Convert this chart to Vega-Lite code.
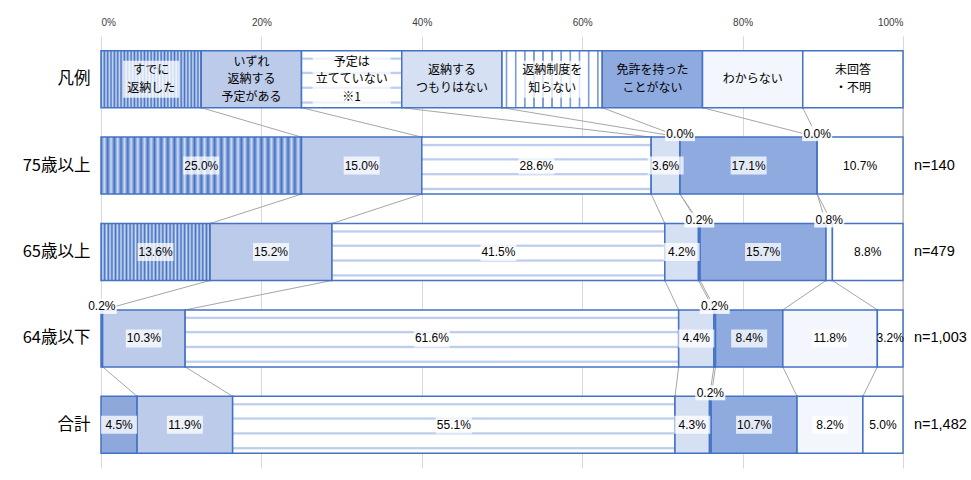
{
  "$schema": "https://vega.github.io/schema/vega-lite/v6.json",
  "width": 802,
  "height": 432,
  "autosize": {"type": "none"},
  "padding": {"left": 101, "top": 36, "right": 68, "bottom": 12},
  "background": "white",
  "config": {"view": {"stroke": null}, "font": "Noto Sans CJK JP"},
  "layer": [
    {
      "data": {"values": [
        {"row": "凡例", "ri": 0, "ci": 0, "cat": "すでに返納した", "value": 12.5, "nl": 2, "l1": "すでに", "l2": "返納した"},
        {"row": "凡例", "ri": 0, "ci": 1, "cat": "いずれ返納する予定がある", "value": 12.5, "nl": 3, "l1": "いずれ", "l2": "返納する", "l3": "予定がある"},
        {"row": "凡例", "ri": 0, "ci": 2, "cat": "予定は立てていない※1", "value": 12.5, "nl": 3, "l1": "予定は", "l2": "立てていない", "l3": "※1"},
        {"row": "凡例", "ri": 0, "ci": 3, "cat": "返納するつもりはない", "value": 12.5, "nl": 2, "l1": "返納する", "l2": "つもりはない"},
        {"row": "凡例", "ri": 0, "ci": 4, "cat": "返納制度を知らない", "value": 12.5, "nl": 2, "l1": "返納制度を", "l2": "知らない"},
        {"row": "凡例", "ri": 0, "ci": 5, "cat": "免許を持ったことがない", "value": 12.5, "nl": 2, "l1": "免許を持った", "l2": "ことがない"},
        {"row": "凡例", "ri": 0, "ci": 6, "cat": "わからない", "value": 12.5, "nl": 1, "l1": "わからない"},
        {"row": "凡例", "ri": 0, "ci": 7, "cat": "未回答・不明", "value": 12.5, "nl": 2, "l1": "未回答", "l2": "・不明"},
        {"row": "75歳以上", "ri": 1, "ci": 0, "cat": "すでに返納した", "value": 25.0},
        {"row": "75歳以上", "ri": 1, "ci": 1, "cat": "いずれ返納する予定がある", "value": 15.0},
        {"row": "75歳以上", "ri": 1, "ci": 2, "cat": "予定は立てていない", "value": 28.6},
        {"row": "75歳以上", "ri": 1, "ci": 3, "cat": "返納するつもりはない", "value": 3.6},
        {"row": "75歳以上", "ri": 1, "ci": 4, "cat": "返納制度を知らない", "value": 0.0},
        {"row": "75歳以上", "ri": 1, "ci": 5, "cat": "免許を持ったことがない", "value": 17.1},
        {"row": "75歳以上", "ri": 1, "ci": 6, "cat": "わからない", "value": 0.0},
        {"row": "75歳以上", "ri": 1, "ci": 7, "cat": "未回答・不明", "value": 10.7},
        {"row": "65歳以上", "ri": 2, "ci": 0, "cat": "すでに返納した", "value": 13.6},
        {"row": "65歳以上", "ri": 2, "ci": 1, "cat": "いずれ返納する予定がある", "value": 15.2},
        {"row": "65歳以上", "ri": 2, "ci": 2, "cat": "予定は立てていない", "value": 41.5},
        {"row": "65歳以上", "ri": 2, "ci": 3, "cat": "返納するつもりはない", "value": 4.2},
        {"row": "65歳以上", "ri": 2, "ci": 4, "cat": "返納制度を知らない", "value": 0.2},
        {"row": "65歳以上", "ri": 2, "ci": 5, "cat": "免許を持ったことがない", "value": 15.7},
        {"row": "65歳以上", "ri": 2, "ci": 6, "cat": "わからない", "value": 0.8},
        {"row": "65歳以上", "ri": 2, "ci": 7, "cat": "未回答・不明", "value": 8.8},
        {"row": "64歳以下", "ri": 3, "ci": 0, "cat": "すでに返納した", "value": 0.2},
        {"row": "64歳以下", "ri": 3, "ci": 1, "cat": "いずれ返納する予定がある", "value": 10.3},
        {"row": "64歳以下", "ri": 3, "ci": 2, "cat": "予定は立てていない", "value": 61.6},
        {"row": "64歳以下", "ri": 3, "ci": 3, "cat": "返納するつもりはない", "value": 4.4},
        {"row": "64歳以下", "ri": 3, "ci": 4, "cat": "返納制度を知らない", "value": 0.2},
        {"row": "64歳以下", "ri": 3, "ci": 5, "cat": "免許を持ったことがない", "value": 8.4},
        {"row": "64歳以下", "ri": 3, "ci": 6, "cat": "わからない", "value": 11.8},
        {"row": "64歳以下", "ri": 3, "ci": 7, "cat": "未回答・不明", "value": 3.2},
        {"row": "合計", "ri": 4, "ci": 0, "cat": "すでに返納した", "value": 4.5},
        {"row": "合計", "ri": 4, "ci": 1, "cat": "いずれ返納する予定がある", "value": 11.9},
        {"row": "合計", "ri": 4, "ci": 2, "cat": "予定は立てていない", "value": 55.1},
        {"row": "合計", "ri": 4, "ci": 3, "cat": "返納するつもりはない", "value": 4.3},
        {"row": "合計", "ri": 4, "ci": 4, "cat": "返納制度を知らない", "value": 0.2},
        {"row": "合計", "ri": 4, "ci": 5, "cat": "免許を持ったことがない", "value": 10.7},
        {"row": "合計", "ri": 4, "ci": 6, "cat": "わからない", "value": 8.2},
        {"row": "合計", "ri": 4, "ci": 7, "cat": "未回答・不明", "value": 5.0}
      ]},
      "transform": [
        {"stack": "value", "groupby": ["row"], "sort": [{"field": "ci", "order": "ascending"}], "as": ["x0", "x1"], "offset": "normalize"},
        {"calculate": "(datum.x0 + datum.x1) / 2", "as": "xm"},
        {"calculate": "format(datum.value, '.1f') + '%'", "as": "lab"}
      ],
      "encoding": {
        "y": {"field": "row", "type": "nominal", "sort": ["凡例", "75歳以上", "65歳以上", "64歳以下", "合計"], "scale": {"paddingInner": 0.34, "paddingOuter": 0.17},
          "axis": {"title": null, "domain": false, "ticks": false, "grid": false, "labelFontSize": 16.5, "labelColor": "#000000", "labelPadding": 11, "labelFont": "Noto Sans CJK JP"}}
      },
      "layer": [
        {
          "transform": [
            {"window": [{"op": "lead", "field": "x1", "as": "nx1"}, {"op": "lead", "field": "row", "as": "nrow"}], "groupby": ["ci"], "sort": [{"field": "ri", "order": "ascending"}]},
            {"filter": "datum.nrow != null"}
          ],
          "mark": {"type": "rule", "color": "#a6a6a6", "strokeWidth": 1, "yOffset": 28.5, "y2Offset": -28.5},
          "encoding": {
            "x": {"field": "x1", "type": "quantitative", "scale": {"domain": [0, 1], "nice": false},
              "axis": {"orient": "top", "values": [0, 0.2, 0.4, 0.6, 0.8, 1], "format": "%", "title": null, "domain": false, "ticks": false, "labelFontSize": 10, "labelColor": "#404040", "labelFont": "Liberation Sans", "labelPadding": 9, "gridColor": "#d9d9d9", "grid": true}},
            "x2": {"field": "nx1"},
            "y2": {"field": "nrow"}
          }
        },
        {
          "mark": {"type": "bar", "stroke": "#4472c4", "strokeWidth": 1.5},
          "encoding": {
            "x": {"field": "x0", "type": "quantitative"},
            "x2": {"field": "x1"},
            "fill": {
              "condition": [
                {"test": "datum.ci == 0 && datum.value >= 5", "value": {"gradient": "linear", "x1": 0, "y1": 0, "x2": 1, "y2": 0, "stops": [
                  {"offset": 0, "color": "#4472c4"}, {"offset": 0.0167, "color": "#d0dcf2"}, {"offset": 0.0333, "color": "#4472c4"}, {"offset": 0.05, "color": "#d0dcf2"},
                  {"offset": 0.0667, "color": "#4472c4"}, {"offset": 0.0833, "color": "#d0dcf2"}, {"offset": 0.1, "color": "#4472c4"}, {"offset": 0.1167, "color": "#d0dcf2"},
                  {"offset": 0.1333, "color": "#4472c4"}, {"offset": 0.15, "color": "#d0dcf2"}, {"offset": 0.1667, "color": "#4472c4"}, {"offset": 0.1833, "color": "#d0dcf2"},
                  {"offset": 0.2, "color": "#4472c4"}, {"offset": 0.2167, "color": "#d0dcf2"}, {"offset": 0.2333, "color": "#4472c4"}, {"offset": 0.25, "color": "#d0dcf2"},
                  {"offset": 0.2667, "color": "#4472c4"}, {"offset": 0.2833, "color": "#d0dcf2"}, {"offset": 0.3, "color": "#4472c4"}, {"offset": 0.3167, "color": "#d0dcf2"},
                  {"offset": 0.3333, "color": "#4472c4"}, {"offset": 0.35, "color": "#d0dcf2"}, {"offset": 0.3667, "color": "#4472c4"}, {"offset": 0.3833, "color": "#d0dcf2"},
                  {"offset": 0.4, "color": "#4472c4"}, {"offset": 0.4167, "color": "#d0dcf2"}, {"offset": 0.4333, "color": "#4472c4"}, {"offset": 0.45, "color": "#d0dcf2"},
                  {"offset": 0.4667, "color": "#4472c4"}, {"offset": 0.4833, "color": "#d0dcf2"}, {"offset": 0.5, "color": "#4472c4"}, {"offset": 0.5167, "color": "#d0dcf2"},
                  {"offset": 0.5333, "color": "#4472c4"}, {"offset": 0.55, "color": "#d0dcf2"}, {"offset": 0.5667, "color": "#4472c4"}, {"offset": 0.5833, "color": "#d0dcf2"},
                  {"offset": 0.6, "color": "#4472c4"}, {"offset": 0.6167, "color": "#d0dcf2"}, {"offset": 0.6333, "color": "#4472c4"}, {"offset": 0.65, "color": "#d0dcf2"},
                  {"offset": 0.6667, "color": "#4472c4"}, {"offset": 0.6833, "color": "#d0dcf2"}, {"offset": 0.7, "color": "#4472c4"}, {"offset": 0.7167, "color": "#d0dcf2"},
                  {"offset": 0.7333, "color": "#4472c4"}, {"offset": 0.75, "color": "#d0dcf2"}, {"offset": 0.7667, "color": "#4472c4"}, {"offset": 0.7833, "color": "#d0dcf2"},
                  {"offset": 0.8, "color": "#4472c4"}, {"offset": 0.8167, "color": "#d0dcf2"}, {"offset": 0.8333, "color": "#4472c4"}, {"offset": 0.85, "color": "#d0dcf2"},
                  {"offset": 0.8667, "color": "#4472c4"}, {"offset": 0.8833, "color": "#d0dcf2"}, {"offset": 0.9, "color": "#4472c4"}, {"offset": 0.9167, "color": "#d0dcf2"},
                  {"offset": 0.9333, "color": "#4472c4"}, {"offset": 0.95, "color": "#d0dcf2"}, {"offset": 0.9667, "color": "#4472c4"}, {"offset": 0.9833, "color": "#d0dcf2"},
                  {"offset": 1, "color": "#4472c4"}]}},
                {"test": "datum.ci == 2", "value": {"gradient": "linear", "x1": 0, "y1": 0, "x2": 0, "y2": 1, "stops": [
                  {"offset": 0, "color": "#ffffff"}, {"offset": 0.11, "color": "#ffffff"}, {"offset": 0.13, "color": "#bccdee"}, {"offset": 0.15, "color": "#bccdee"}, {"offset": 0.17, "color": "#ffffff"},
                  {"offset": 0.36, "color": "#ffffff"}, {"offset": 0.38, "color": "#bccdee"}, {"offset": 0.40, "color": "#bccdee"}, {"offset": 0.42, "color": "#ffffff"},
                  {"offset": 0.62, "color": "#ffffff"}, {"offset": 0.64, "color": "#bccdee"}, {"offset": 0.66, "color": "#bccdee"}, {"offset": 0.68, "color": "#ffffff"},
                  {"offset": 0.88, "color": "#ffffff"}, {"offset": 0.90, "color": "#bccdee"}, {"offset": 0.92, "color": "#bccdee"}, {"offset": 0.94, "color": "#ffffff"},
                  {"offset": 1, "color": "#ffffff"}]}},
                {"test": "datum.ci == 4 && datum.value >= 5", "value": {"gradient": "linear", "x1": 0, "y1": 0, "x2": 1, "y2": 0, "stops": [
                  {"offset": 0.033, "color": "#ffffff"}, {"offset": 0.039, "color": "#7f9fd8"}, {"offset": 0.051, "color": "#7f9fd8"}, {"offset": 0.057, "color": "#ffffff"},
                  {"offset": 0.124, "color": "#ffffff"}, {"offset": 0.130, "color": "#7f9fd8"}, {"offset": 0.142, "color": "#7f9fd8"}, {"offset": 0.148, "color": "#ffffff"},
                  {"offset": 0.215, "color": "#ffffff"}, {"offset": 0.221, "color": "#7f9fd8"}, {"offset": 0.233, "color": "#7f9fd8"}, {"offset": 0.239, "color": "#ffffff"},
                  {"offset": 0.306, "color": "#ffffff"}, {"offset": 0.312, "color": "#7f9fd8"}, {"offset": 0.324, "color": "#7f9fd8"}, {"offset": 0.330, "color": "#ffffff"},
                  {"offset": 0.397, "color": "#ffffff"}, {"offset": 0.403, "color": "#7f9fd8"}, {"offset": 0.415, "color": "#7f9fd8"}, {"offset": 0.421, "color": "#ffffff"},
                  {"offset": 0.488, "color": "#ffffff"}, {"offset": 0.494, "color": "#7f9fd8"}, {"offset": 0.506, "color": "#7f9fd8"}, {"offset": 0.512, "color": "#ffffff"},
                  {"offset": 0.579, "color": "#ffffff"}, {"offset": 0.585, "color": "#7f9fd8"}, {"offset": 0.597, "color": "#7f9fd8"}, {"offset": 0.603, "color": "#ffffff"},
                  {"offset": 0.670, "color": "#ffffff"}, {"offset": 0.676, "color": "#7f9fd8"}, {"offset": 0.688, "color": "#7f9fd8"}, {"offset": 0.694, "color": "#ffffff"},
                  {"offset": 0.761, "color": "#ffffff"}, {"offset": 0.767, "color": "#7f9fd8"}, {"offset": 0.779, "color": "#7f9fd8"}, {"offset": 0.785, "color": "#ffffff"},
                  {"offset": 0.852, "color": "#ffffff"}, {"offset": 0.858, "color": "#7f9fd8"}, {"offset": 0.870, "color": "#7f9fd8"}, {"offset": 0.876, "color": "#ffffff"},
                  {"offset": 0.943, "color": "#ffffff"}, {"offset": 0.949, "color": "#7f9fd8"}, {"offset": 0.961, "color": "#7f9fd8"}, {"offset": 0.967, "color": "#ffffff"}]}}
              ],
              "field": "ci", "type": "nominal", "legend": null,
              "scale": {"domain": [0, 1, 2, 3, 4, 5, 6, 7], "range": ["#8ea8dc", "#bccbea", "#dfe6f5", "#d6e0f3", "#d0dcf1", "#8eaadf", "#f3f6fc", "#ffffff"]}
            }
          }
        },
        {
          "transform": [{"filter": "datum.ri > 0 && datum.value >= 1 && datum.ci < 7"}],
          "mark": {"type": "rect", "width": 36, "height": 18, "fill": "#ffffff", "fillOpacity": 0.75},
          "encoding": {"x": {"field": "xm", "type": "quantitative"}}
        },
        {
          "transform": [{"filter": "datum.ri > 0 && datum.value < 1"}],
          "mark": {"type": "rect", "width": 30, "height": 15, "fill": "#ffffff", "fillOpacity": 0.85, "yOffset": -32},
          "encoding": {"x": {"field": "xm", "type": "quantitative"}}
        },
        {
          "transform": [{"filter": "datum.ri == 0 && datum.ci == 0"}],
          "mark": {"type": "rect", "width": 56, "height": 37, "fill": "#ffffff", "fillOpacity": 0.75},
          "encoding": {"x": {"field": "xm", "type": "quantitative"}}
        },
        {
          "transform": [{"filter": "datum.ri == 0 && datum.ci == 4"}],
          "mark": {"type": "rect", "width": 66, "height": 37, "fill": "#ffffff", "fillOpacity": 0.75},
          "encoding": {"x": {"field": "xm", "type": "quantitative"}}
        },
        {
          "transform": [{"filter": "datum.ri == 0 && datum.ci == 2"}],
          "mark": {"type": "rect", "width": 78, "height": 54, "fill": "#ffffff", "fillOpacity": 0.75},
          "encoding": {"x": {"field": "xm", "type": "quantitative"}}
        },
        {
          "transform": [{"filter": "datum.ri > 0 && datum.value >= 1"}],
          "mark": {"type": "text", "fontSize": 12, "font": "Liberation Sans", "color": "#000000"},
          "encoding": {
            "x": {"field": "xm", "type": "quantitative"},
            "text": {"field": "lab"}
          }
        },
        {
          "transform": [{"filter": "datum.ri > 0 && datum.value < 1"}],
          "mark": {"type": "text", "fontSize": 12, "font": "Liberation Sans", "color": "#000000", "dy": -32},
          "encoding": {
            "x": {"field": "xm", "type": "quantitative"},
            "text": {"field": "lab"}
          }
        },
        {
          "transform": [{"filter": "datum.ri == 0 && datum.nl == 1"}],
          "mark": {"type": "text", "fontSize": 12, "font": "Noto Sans CJK JP", "color": "#000000", "baseline": "middle"},
          "encoding": {"x": {"field": "xm", "type": "quantitative"}, "text": {"field": "l1"}}
        },
        {
          "transform": [{"filter": "datum.ri == 0 && datum.nl == 2"}],
          "mark": {"type": "text", "fontSize": 12, "font": "Noto Sans CJK JP", "color": "#000000", "baseline": "middle", "dy": -8.8},
          "encoding": {"x": {"field": "xm", "type": "quantitative"}, "text": {"field": "l1"}}
        },
        {
          "transform": [{"filter": "datum.ri == 0 && datum.nl == 2"}],
          "mark": {"type": "text", "fontSize": 12, "font": "Noto Sans CJK JP", "color": "#000000", "baseline": "middle", "dy": 8.8},
          "encoding": {"x": {"field": "xm", "type": "quantitative"}, "text": {"field": "l2"}}
        },
        {
          "transform": [{"filter": "datum.ri == 0 && datum.nl == 3"}],
          "mark": {"type": "text", "fontSize": 12, "font": "Noto Sans CJK JP", "color": "#000000", "baseline": "middle", "dy": -17.6},
          "encoding": {"x": {"field": "xm", "type": "quantitative"}, "text": {"field": "l1"}}
        },
        {
          "transform": [{"filter": "datum.ri == 0 && datum.nl == 3"}],
          "mark": {"type": "text", "fontSize": 12, "font": "Noto Sans CJK JP", "color": "#000000", "baseline": "middle"},
          "encoding": {"x": {"field": "xm", "type": "quantitative"}, "text": {"field": "l2"}}
        },
        {
          "transform": [{"filter": "datum.ri == 0 && datum.nl == 3"}],
          "mark": {"type": "text", "fontSize": 12, "font": "Noto Sans CJK JP", "color": "#000000", "baseline": "middle", "dy": 17.6},
          "encoding": {"x": {"field": "xm", "type": "quantitative"}, "text": {"field": "l3"}}
        }
      ]
    },
    {
      "data": {"values": [
        {"row": "75歳以上", "n": "n=140"},
        {"row": "65歳以上", "n": "n=479"},
        {"row": "64歳以下", "n": "n=1,003"},
        {"row": "合計", "n": "n=1,482"}
      ]},
      "mark": {"type": "text", "align": "left", "dx": 11, "fontSize": 14.5, "font": "Liberation Sans", "color": "#000000"},
      "encoding": {
        "x": {"datum": 1, "type": "quantitative"},
        "y": {"field": "row", "type": "nominal", "sort": ["凡例", "75歳以上", "65歳以上", "64歳以下", "合計"]},
        "text": {"field": "n"}
      }
    }
  ]
}
